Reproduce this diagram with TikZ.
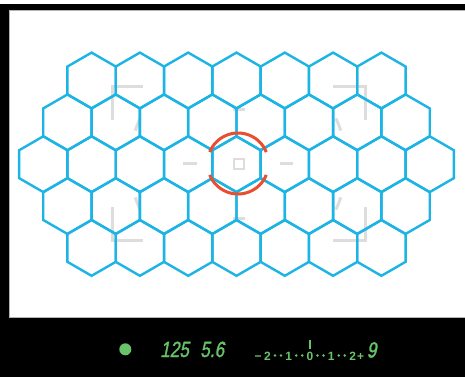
\documentclass[tikz,border=0pt]{standalone}
\usepackage{fontspec}
\newfontfamily\lcdfont[FakeSlant=0.2,FakeStretch=0.78,FakeBold=1.2]{Liberation Sans}
\newfontfamily\evfont{Liberation Sans}
\definecolor{vfBlue}{RGB}{28,180,228}
\definecolor{vfRed}{RGB}{234,78,48}
\definecolor{vfGray}{RGB}{221,221,221}
\definecolor{vfGreen}{RGB}{104,196,104}
\tikzset{
  hexcell/.style={vfBlue, line width=2.4pt, line join=miter},
  guide/.style={vfGray, line width=3pt},
  aimarc/.style={vfRed, line width=3pt},
  lcd/.style={text=vfGreen, inner sep=0pt, anchor=base west, font=\lcdfont\fontsize{22}{22}\selectfont},
  evnum/.style={text=vfGreen, inner sep=0pt, anchor=base, font=\evfont\bfseries\fontsize{12}{12}\selectfont},
}

\begin{document}
\begin{tikzpicture}[x=1pt, y=-1pt]
    \useasboundingbox (0,0) rectangle (465,377);
    % viewfinder frame
    \fill[black] (0,4) rectangle (465,377);
    \fill[white] (9,10) rectangle (465,317);
    \draw[gray!60, line width=0.8pt] (465,10) -- (9,10) -- (9,317) -- (465,317);
    % faint guide marks
    \draw[guide] (143,87) -- (112,87) -- (112,120);
    \draw[guide] (333,87) -- (365.5,87) -- (365.5,120);
    \draw[guide] (112,207) -- (112,240.5) -- (143,240.5);
    \draw[guide] (333,240.5) -- (365.5,240.5) -- (365.5,207);
    \foreach \a in {18,155,198,335}
      \draw[guide] (238,164) ++(\a:108) arc[start angle=\a, end angle=\a+7, radius=108];
    \draw[guide] (233,109) -- (245,109);
    \draw[guide] (233,218) -- (245,218);
    \draw[guide] (183,163.5) -- (197,163.5);
    \draw[guide] (280,163.5) -- (293,163.5);
    \draw[guide, line width=2pt] (233.5,159) rectangle (243.5,169);
    % honeycomb metering cells
    \foreach \r in {-2,...,2} {
      \pgfmathtruncatemacro\n{9-abs(\r)}
      \foreach \i in {1,...,\n} {
        \pgfmathsetmacro\hx{236.5+(\i-(\n+1)/2)*48.3}
        \pgfmathsetmacro\hy{164.2+\r*41.85}
        \draw[hexcell] (\hx,\hy) +(90:27.9) -- +(30:27.9) -- +(-30:27.9) -- +(-90:27.9)
          -- +(-150:27.9) -- +(150:27.9) -- cycle;
      }
    }
    % spot circle
    \draw[aimarc] (238,163.5) ++(22:30.5) arc[start angle=22, end angle=158, radius=30.5];
    \draw[aimarc] (238,163.5) ++(202:30.5) arc[start angle=202, end angle=338, radius=30.5];
    % LCD readout
    \node[circle, fill=vfGreen, inner sep=0pt, minimum size=12pt] (ready) at (125.3,349.3) {};
    \node[lcd] (shutter) at (160,357) {125};
    \node[lcd] (aperture) at (200,357) {5.6};
    \node[lcd] (frames) at (366.5,357.5) {9};
    \node[evnum] (evminus) at (258,360) {−};
    \node[evnum] (evplus) at (360.5,360) {+};
    \foreach \v [count=\k from -2] in {2,1,0,1,2}
      \node[evnum] (ev\k) at (310+21.3*\k,360) {\v};
    \foreach \k in {-2,...,1}
      \fill[vfGreen] (317.5+21.3*\k,355.5) circle (1.4) (323.5+21.3*\k,355.5) circle (1.4);
    \draw[vfGreen, line width=2.2pt] (ev0.north) ++(0,-2.5) -- ++(0,-9);
\end{tikzpicture}
\end{document}
